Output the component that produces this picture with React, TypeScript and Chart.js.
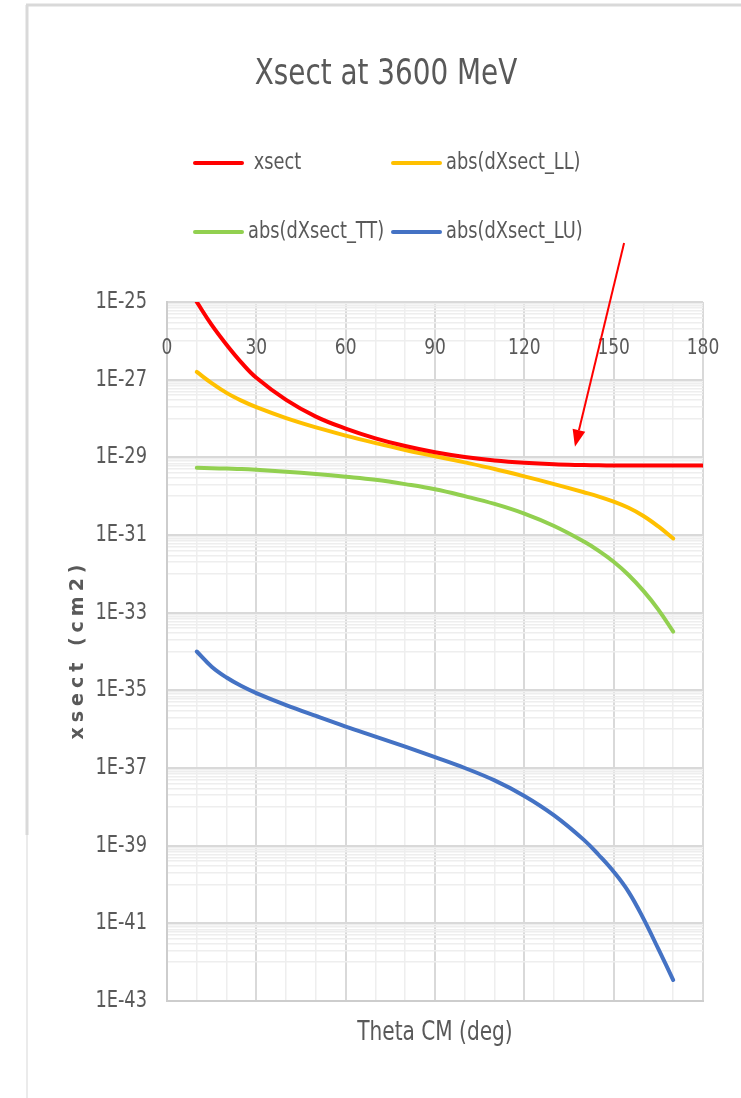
import { useEffect, useRef } from 'react';
import { Chart, registerables } from 'chart.js';

Chart.register(...registerables);

// Scattering angle in the CM frame (deg)
const theta = [10, 15, 20, 25, 30, 40, 50, 60, 70, 80, 90, 100, 110, 120, 130, 140, 145, 150, 155, 160, 165, 170, 180];

// Cross sections (cm2)
const xsect = [1.0e-25, 2.57e-26, 7.94e-27, 2.75e-27, 1.12e-27, 3.02e-28, 1.12e-28, 5.5e-29, 3.09e-29, 1.95e-29, 1.35e-29, 1.02e-29, 8.32e-30, 7.24e-30, 6.61e-30, 6.31e-30, 6.21e-30, 6.17e-30, 6.17e-30, 6.17e-30, 6.17e-30, 6.17e-30, 6.17e-30];
const dXsectLL = [1.58e-27, 8.13e-28, 4.57e-28, 2.88e-28, 1.95e-28, 1.02e-28, 5.89e-29, 3.63e-29, 2.34e-29, 1.55e-29, 1.07e-29, 7.41e-30, 5.01e-30, 3.24e-30, 2.04e-30, 1.26e-30, 9.77e-31, 7.24e-31, 5.01e-31, 3.09e-31, 1.66e-31, 8.13e-32];
const dXsectTT = [5.37e-30, 5.25e-30, 5.13e-30, 5.01e-30, 4.79e-30, 4.27e-30, 3.72e-30, 3.16e-30, 2.63e-30, 2.04e-30, 1.51e-30, 1.0e-30, 6.31e-31, 3.55e-31, 1.7e-31, 6.76e-32, 3.89e-32, 2.04e-32, 9.33e-33, 3.63e-33, 1.2e-33, 3.24e-34];
const dXsectLU = [1.0e-34, 4.07e-35, 2.14e-35, 1.29e-35, 8.51e-36, 4.17e-36, 2.19e-36, 1.17e-36, 6.46e-37, 3.55e-37, 1.91e-37, 1.0e-37, 4.79e-38, 1.91e-38, 6.03e-39, 1.41e-39, 5.75e-40, 2.14e-40, 6.46e-41, 1.32e-41, 2.19e-42, 3.47e-43];

const seriesLabels = [' xsect', 'abs(dXsect_LL)', 'abs(dXsect_TT)', 'abs(dXsect_LU)'];
const seriesValues = [xsect, dXsectLL, dXsectTT, dXsectLU];
const seriesColors = ['#ff0000', '#ffc000', '#92d050', '#4472c4'];

// Axis ticks
const xGridValues = [0, 10, 20, 30, 40, 50, 60, 70, 80, 90, 100, 110, 120, 130, 140, 150, 160, 170, 180];
const xLabelStep = 30;
const yLabelExponents = [-25, -27, -29, -31, -33, -35, -37, -39, -41, -43];
const yMinorMultipliers = [1, 2, 3, 4, 5, 6, 7, 8, 9];

// Pointer drawn onto the flat tail of xsect: [theta, value]
const arrowFrom = [153.5, 3.3e-24];
const arrowTo = [137, 1.86e-29];

const TEXT = '#595959';
const FACE = "'DejaVu Sans Condensed', 'DejaVu Sans', sans-serif";
const SQUEEZE = 0.86;

const yTicks = () => {
  const out: { value: number; major: boolean }[] = [];
  yLabelExponents.forEach((e) => {
    out.push({ value: Math.pow(10, e), major: true });
    if (e > yLabelExponents[yLabelExponents.length - 1]) {
      yMinorMultipliers.forEach((m) => out.push({ value: m * Math.pow(10, e - 1), major: false }));
    }
  });
  return out.sort((a, b) => a.value - b.value);
};

// narrow text: draw with a horizontal squeeze around the anchor point
const narrowText = (ctx: CanvasRenderingContext2D, text: string, x: number, y: number, size: number, align: CanvasTextAlign) => {
  ctx.save();
  ctx.translate(x, y);
  ctx.scale(SQUEEZE, 1);
  ctx.font = `${size}px ${FACE}`;
  ctx.textAlign = align;
  ctx.textBaseline = 'middle';
  ctx.fillText(text, 0, 0);
  ctx.restore();
};

const decorPlugin = {
  id: 'decor',
  beforeDraw(chart: any) {
    const { ctx, width, height } = chart;
    ctx.save();
    ctx.fillStyle = '#ffffff';
    ctx.fillRect(0, 0, width, height);
    ctx.strokeStyle = '#d9d9d9';
    ctx.lineWidth = 3;
    ctx.beginPath();
    ctx.moveTo(26, 5);
    ctx.lineTo(width, 5);
    ctx.moveTo(27, 5);
    ctx.lineTo(27, 835);
    ctx.stroke();
    ctx.strokeStyle = '#e4e4e4';
    ctx.lineWidth = 1.5;
    ctx.beginPath();
    ctx.moveTo(27, 835);
    ctx.lineTo(27, height);
    ctx.stroke();
    ctx.restore();
  },
  afterDraw(chart: any) {
    const { ctx, chartArea } = chart;
    const xs = chart.scales.x;
    const ys = chart.scales.y;
    ctx.save();
    ctx.fillStyle = TEXT;

    // y tick labels (every second decade)
    ys.ticks.forEach((t: any) => {
      if (t.major) {
        const e = Math.round(Math.log10(t.value));
        narrowText(ctx, `1E${e}`, chartArea.left - 20, ys.getPixelForValue(t.value), 23, 'right');
      }
    });

    // x tick labels sit inside the plot, under the top edge
    xs.ticks.forEach((t: any) => {
      if (t.value % xLabelStep === 0) {
        narrowText(ctx, String(t.value), xs.getPixelForValue(t.value), chartArea.top + 46, 22, 'center');
      }
    });

    // chart title
    narrowText(ctx, 'Xsect at 3600 MeV', 386, 75, 36, 'center');

    // axis titles
    narrowText(ctx, 'Theta CM (deg)', (chartArea.left + chartArea.right) / 2, 1033, 26, 'center');
    ctx.save();
    ctx.translate(78, (chartArea.top + chartArea.bottom) / 2);
    ctx.rotate(-Math.PI / 2);
    ctx.font = "bold 19px 'DejaVu Sans', sans-serif";
    ctx.textAlign = 'center';
    ctx.textBaseline = 'middle';
    (ctx as any).letterSpacing = '5px';
    ctx.fillText('xsect (cm2)', 2, 0);
    ctx.restore();

    // legend: two columns, two rows
    const cols = [195, 393];
    const rows = [163, 232];
    chart.data.datasets.forEach((ds: any, i: number) => {
      const x = cols[i % 2];
      const y = rows[Math.floor(i / 2)];
      ctx.strokeStyle = ds.borderColor;
      ctx.lineWidth = 4;
      ctx.lineCap = 'round';
      ctx.beginPath();
      ctx.moveTo(x, y);
      ctx.lineTo(x + 47, y);
      ctx.stroke();
      ctx.fillStyle = TEXT;
      narrowText(ctx, ds.label, x + 53, y, 23, 'left');
    });

    // red pointer
    const x0 = xs.getPixelForValue(arrowFrom[0]);
    const y0 = ys.getPixelForValue(arrowFrom[1]);
    const x1 = xs.getPixelForValue(arrowTo[0]);
    const y1 = ys.getPixelForValue(arrowTo[1]);
    const ang = Math.atan2(y1 - y0, x1 - x0);
    const headLen = 17;
    const headHalf = 6.5;
    const bx = x1 - headLen * Math.cos(ang);
    const by = y1 - headLen * Math.sin(ang);
    ctx.strokeStyle = '#ff0000';
    ctx.fillStyle = '#ff0000';
    ctx.lineWidth = 2;
    ctx.lineCap = 'butt';
    ctx.beginPath();
    ctx.moveTo(x0, y0);
    ctx.lineTo(bx, by);
    ctx.stroke();
    ctx.beginPath();
    ctx.moveTo(x1, y1);
    ctx.lineTo(bx + headHalf * Math.sin(ang), by - headHalf * Math.cos(ang));
    ctx.lineTo(bx - headHalf * Math.sin(ang), by + headHalf * Math.cos(ang));
    ctx.closePath();
    ctx.fill();

    ctx.restore();
  },
};

export default function App() {
  const canvasRef = useRef<HTMLCanvasElement | null>(null);

  useEffect(() => {
    const canvas = canvasRef.current;
    if (!canvas) return;
    const chart = new Chart(canvas, {
      type: 'line',
      data: {
        datasets: seriesValues.map((vals, i) => ({
          label: seriesLabels[i],
          data: vals.map((v, j) => ({ x: theta[j], y: v })),
          borderColor: seriesColors[i],
          backgroundColor: seriesColors[i],
          borderWidth: 4,
          borderCapStyle: 'round' as const,
          pointRadius: 0,
          fill: false,
          tension: 0.4,
        })),
      },
      options: {
        responsive: false,
        animation: false,
        events: [],
        layout: { padding: { top: 302, right: 38, left: 0, bottom: 0 } },
        plugins: {
          legend: { display: false },
          title: { display: false },
          tooltip: { enabled: false },
        },
        scales: {
          x: {
            type: 'linear',
            position: 'bottom',
            min: 0,
            max: 180,
            afterBuildTicks: (scale: any) => {
              scale.ticks = xGridValues.map((v) => ({ value: v, major: v % xLabelStep === 0 }));
            },
            afterFit: (scale: any) => {
              scale.height = 97;
            },
            ticks: { display: false, autoSkip: false },
            grid: {
              drawTicks: false,
              color: (c: any) => (c.tick && c.tick.major ? '#d9d9d9' : '#eeeeee'),
              lineWidth: (c: any) => (c.tick && c.tick.major ? 2 : 1.5),
            },
            border: { display: true, color: '#cdcdcd', width: 2 },
          },
          y: {
            type: 'logarithmic',
            position: 'left',
            min: 1e-43,
            max: 1e-25,
            afterBuildTicks: (scale: any) => {
              scale.ticks = yTicks();
            },
            afterFit: (scale: any) => {
              scale.width = 167;
            },
            ticks: { display: false, autoSkip: false },
            grid: {
              drawTicks: false,
              color: (c: any) => (c.tick && c.tick.major ? '#d9d9d9' : '#eeeeee'),
              lineWidth: (c: any) => (c.tick && c.tick.major ? 2 : 1.5),
            },
            border: { display: true, color: '#cdcdcd', width: 2 },
          },
        },
      },
      plugins: [decorPlugin],
    });
    return () => chart.destroy();
  }, []);

  return (
    <div style={{ position: 'absolute', left: 0, top: 0, width: 741, height: 1098, background: '#fff' }}>
      <canvas ref={canvasRef} width={741} height={1098} style={{ display: 'block' }} />
    </div>
  );
}
